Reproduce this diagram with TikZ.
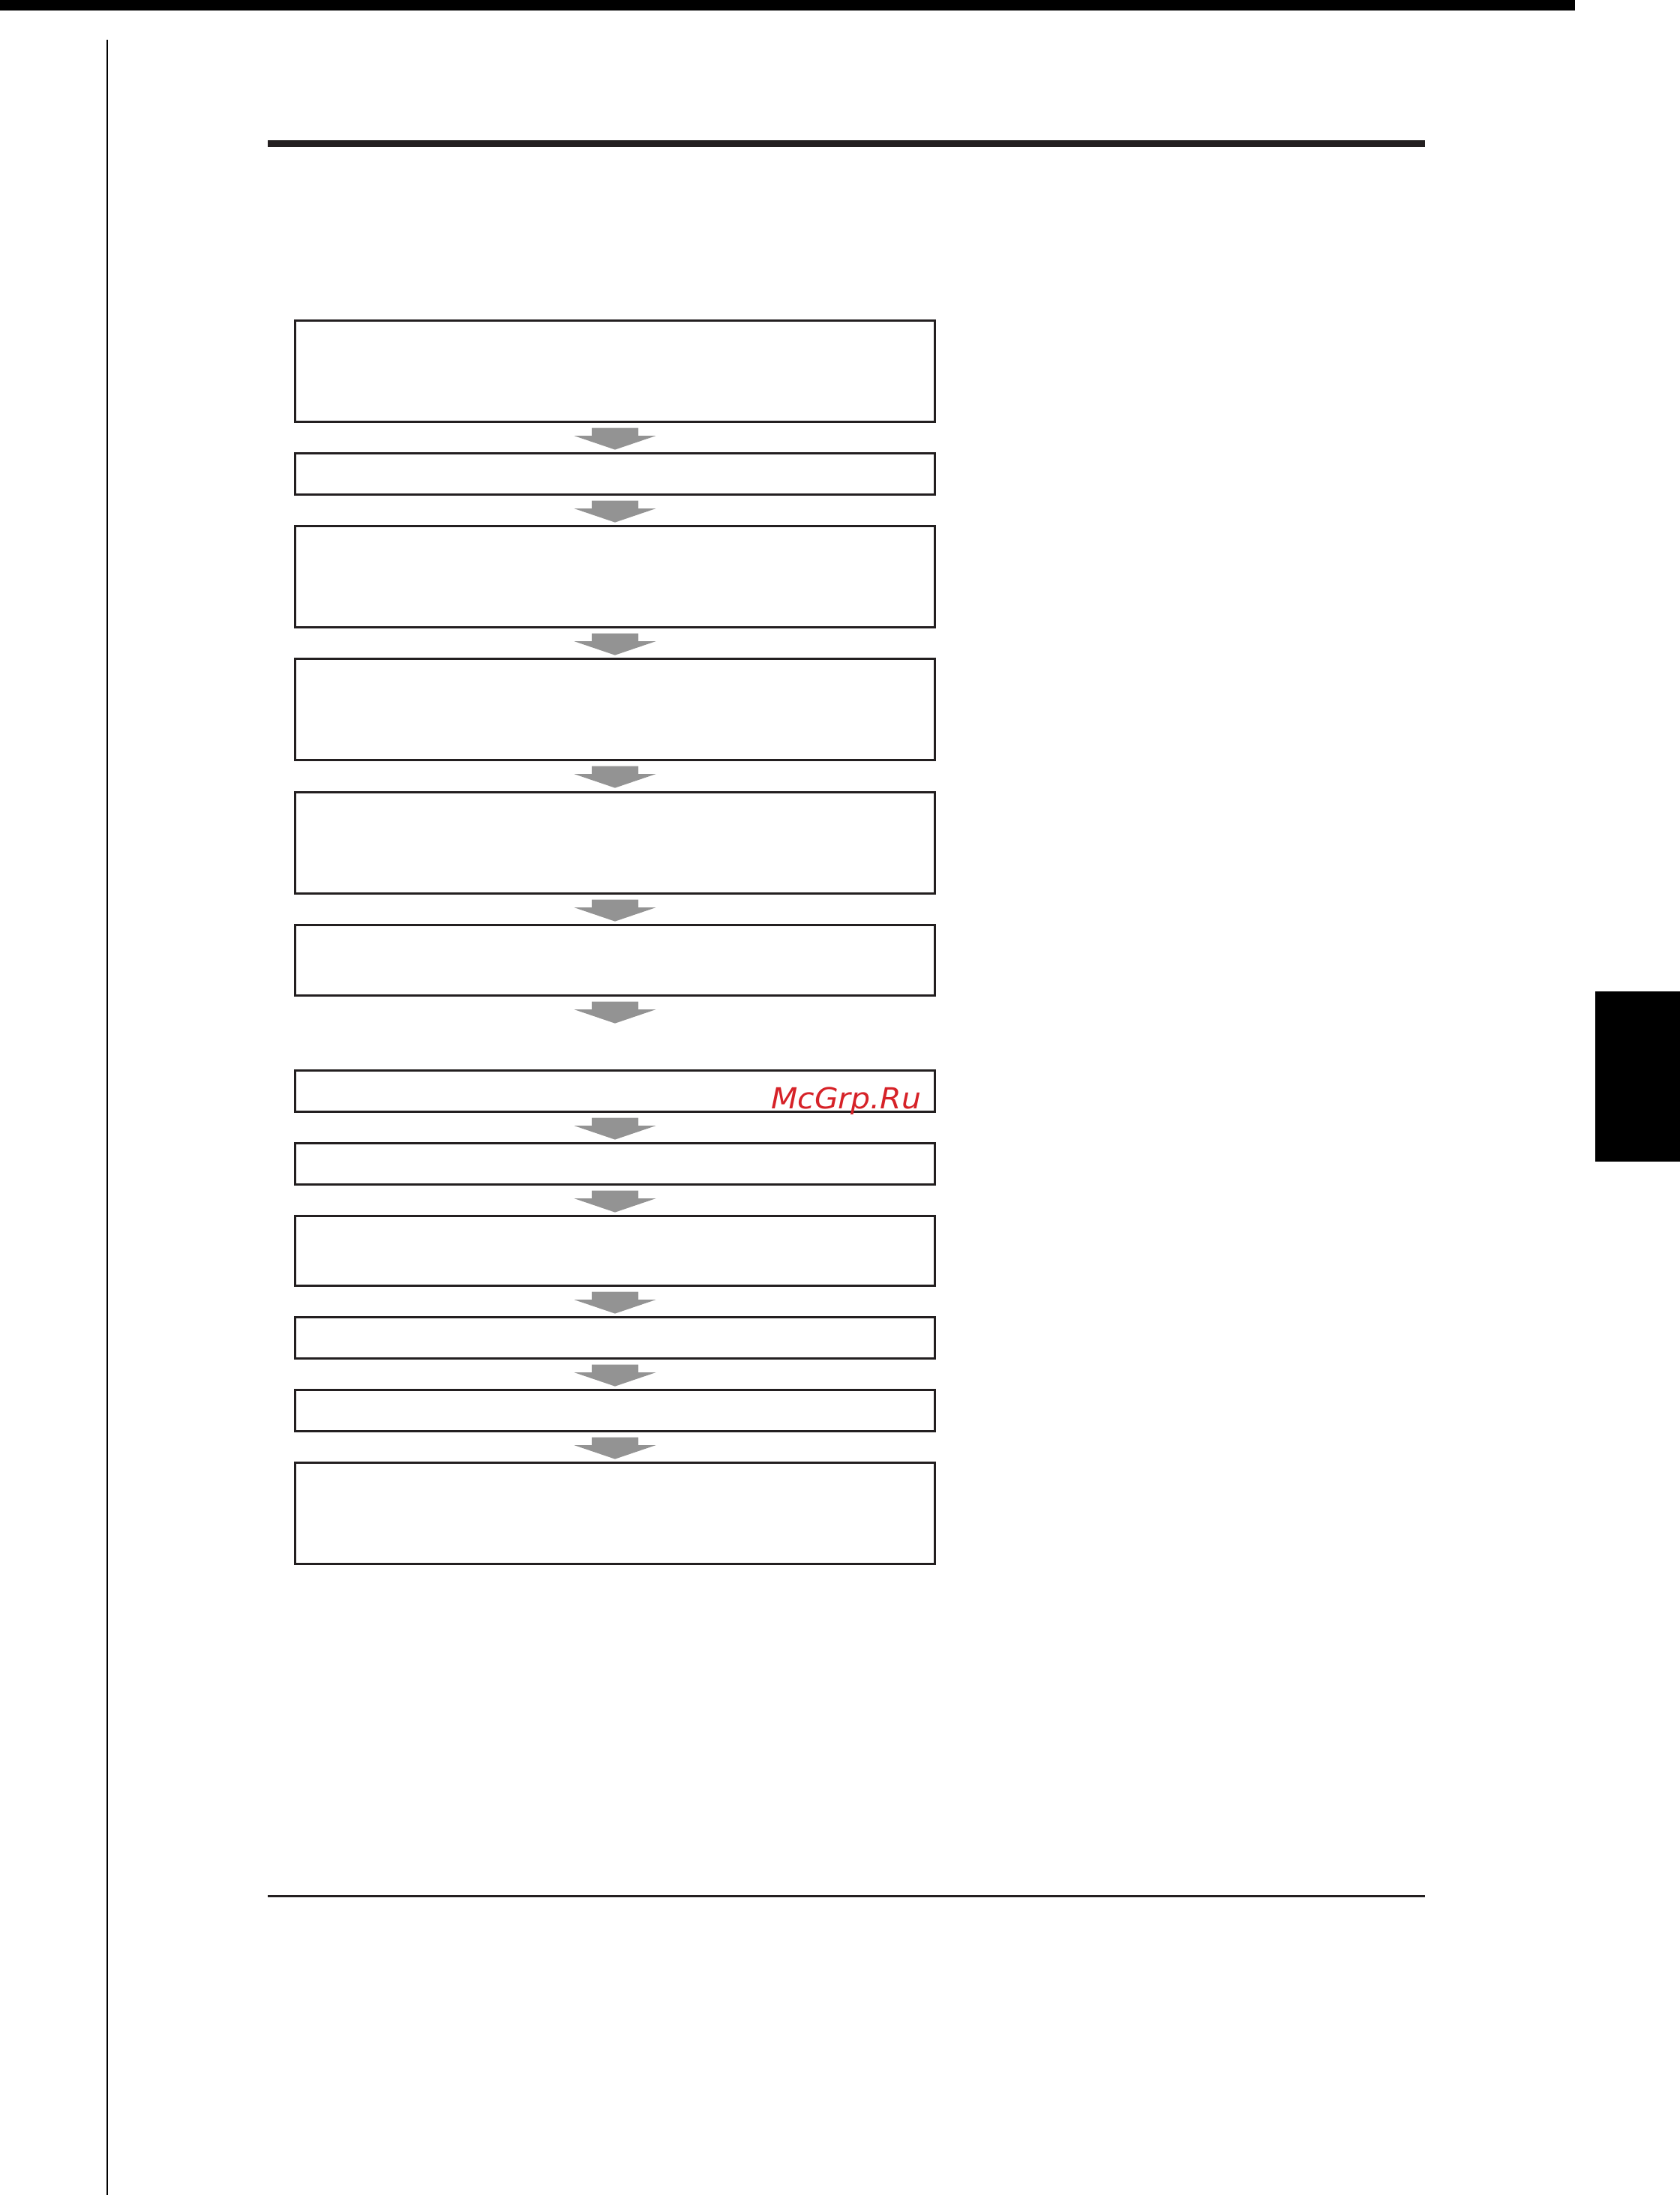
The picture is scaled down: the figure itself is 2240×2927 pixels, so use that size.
\documentclass[tikz,border=0pt]{standalone}
\usepackage{fontspec}
\newfontfamily\wmfont{DejaVu Sans}
\usepackage{tikz}
\usetikzlibrary{calc}
\definecolor{boxline}{HTML}{231F20}
\definecolor{arrowgray}{HTML}{939393}
\definecolor{wmred}{RGB}{214,34,40}
\tikzset{stepbox/.style={draw=boxline,line width=.9pt,minimum width=8.53cm,inner sep=0pt},
  flowarrow/.style={fill=arrowgray,draw=none},
  rulebar/.style={fill=boxline,draw=none},
  wmtext/.style={font=\wmfont\itshape\fontsize{11}{13}\selectfont,text=wmred,inner sep=0pt,
    xscale=1.06,transform shape}}
\begin{document}
\begin{tikzpicture}[x=.01cm,y=-.01cm]
\path[use as bounding box] (0,0) rectangle (2240,2927);
% page furniture
\fill[black] (0,0) rectangle (2100,14);
\fill[black] (142.3,53) rectangle (143.8,2927);
\fill[rulebar] (357,187) rectangle (1900,196);
\fill[rulebar] (357,2527) rectangle (1900,2530);
\fill[black] (2127,1322) rectangle (2240,1549);
% flow boxes
\foreach \n/\y/\h in {1/495/1.35cm,2/632/.55cm,3/769/1.35cm,4/946/1.35cm,5/1124/1.35cm,
  6/1280.5/.94cm,7/1455/.55cm,8/1552/.55cm,9/1668/.93cm,10/1784/.55cm,11/1881/.55cm,12/2018/1.35cm}
  \node[stepbox,minimum height=\h] (box\n) at (820,\y) {};
% block arrows below each box
\foreach \a in {1,...,11}
  \fill[flowarrow,shift={(box\a.south)}] (-31,6.5) -- (31,6.5) -- (31,17) -- (54.5,17)
    -- (0,35.5) -- (-54.5,17) -- (-31,17) -- cycle;
\node[wmtext,anchor=base east] (wm) at (1229,1478) {McGrp.Ru};
\end{tikzpicture}
\end{document}
